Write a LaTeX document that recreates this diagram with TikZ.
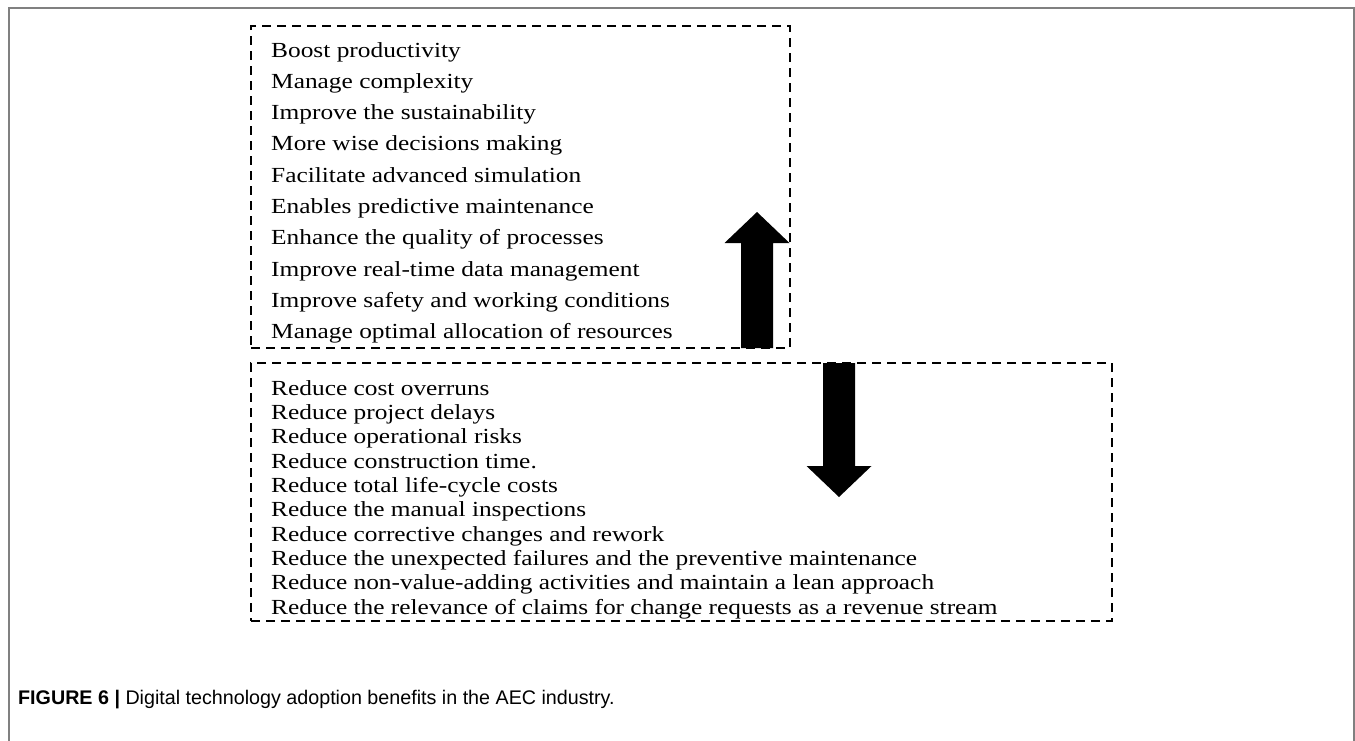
\documentclass[tikz,border=0pt]{standalone}
\usepackage{fontspec}
\setmainfont{Liberation Serif}[FakeStretch=1.18]
\setsansfont{Liberation Sans}
\usetikzlibrary{calc}
% block arrow: (x:base y)(tip y)
\def\blockarrow(#1:#2)(#3){\fill[black] (#1-16,#2) -- (#1-16,{#3+31*sign(#2-#3)}) -- (#1-32.5,{#3+31*sign(#2-#3)}) -- (#1,#3) -- (#1+32.5,{#3+31*sign(#2-#3)}) -- (#1+16,{#3+31*sign(#2-#3)}) -- (#1+16,#2) -- cycle;}

\tikzset{
  benefitbox/.style={draw=black, line width=1.8pt, dash pattern=on 9pt off 6pt, inner sep=0pt},
  item/.style={anchor=base west, inner sep=0pt, font=\fontsize{21.5}{24}\selectfont},
}

\begin{document}
\begin{tikzpicture}[x=1pt, y=-1pt]
			%%%%% START %%%%%
			\useasboundingbox (0,0) rectangle (1355,740);
			
			\draw[line width=1.6pt, color=black!50] (9,745) -- (9,8) -- (1354,8) -- (1354,745);
			
			\node[benefitbox, minimum width=539pt, minimum height=322pt] (upper) at (520.5,187) {};
			\node[benefitbox, minimum width=861pt, minimum height=258pt] (lower) at (681.5,492) {};
			
			\foreach \txt [count=\i] in {Boost productivity, Manage complexity, Improve the sustainability, More wise decisions making, Facilitate advanced simulation, Enables predictive maintenance, Enhance the quality of processes, Improve real-time data management, Improve safety and working conditions, Manage optimal allocation of resources}
				\node[item] (up\i) at (271,{57+31.3*(\i-1)}) {\txt};
			
			\foreach \txt [count=\i] in {Reduce cost overruns, Reduce project delays, Reduce operational risks, Reduce construction time., Reduce total life-cycle costs, Reduce the manual inspections, Reduce corrective changes and rework, Reduce the unexpected failures and the preventive maintenance, Reduce non-value-adding activities and maintain a lean approach, Reduce the relevance of claims for change requests as a revenue stream}
				\node[item] (down\i) at (271,{395+24.35*(\i-1)}) {\txt};
			
			\blockarrow(757:348)(212)
			\blockarrow(839:363)(497)
			
			\node[anchor=west, inner sep=0pt, font=\sffamily\fontsize{19.7}{22}\selectfont] (caption) at (18,700) {\textbf{FIGURE 6 |} Digital technology adoption benefits in the AEC industry.};
			%%%%% END %%%%%
\end{tikzpicture}
\end{document}
